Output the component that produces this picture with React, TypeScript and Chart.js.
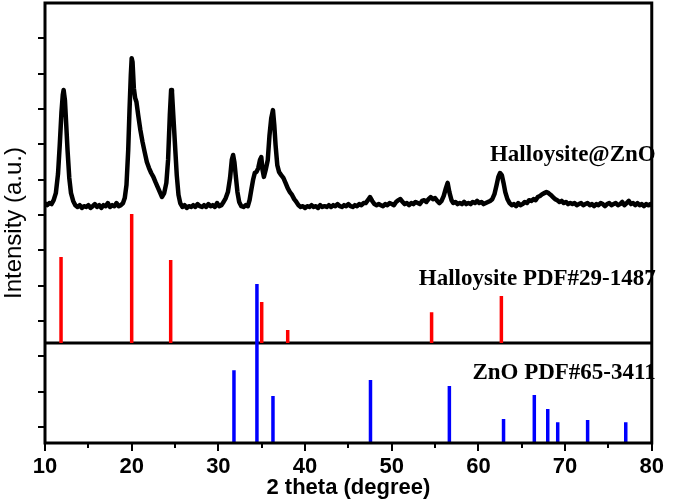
import { useEffect, useRef } from 'react';
import { Chart, registerables } from 'chart.js';

Chart.register(...registerables);

// Measured XRD pattern of Halloysite@ZnO (2θ in degrees, intensity in a.u.)
const theta = [
  10.0, 10.25, 10.5, 10.75, 11.0, 11.25, 11.5, 11.7, 11.9, 12.05, 12.15, 12.3, 12.45, 12.6, 12.8, 13.0, 13.25, 13.5, 13.75,
  14.0, 14.25, 14.5, 14.75, 15.0, 15.25, 15.5, 15.75, 16.0, 16.25, 16.5, 16.75, 17.0, 17.25, 17.5, 17.75, 18.0, 18.25, 18.5, 18.75,
  19.0, 19.2, 19.4, 19.6, 19.75, 19.9, 20.0, 20.1, 20.25, 20.4, 20.55, 20.75, 21.0, 21.25, 21.5, 21.75, 22.0, 22.25, 22.5, 22.75,
  23.0, 23.25, 23.5, 23.75, 24.0, 24.2, 24.4, 24.55, 24.65, 24.8, 25.0, 25.2, 25.4, 25.6, 25.85, 26.1, 26.35, 26.6, 26.85,
  27.1, 27.35, 27.6, 27.85, 28.1, 28.35, 28.6, 28.85, 29.1, 29.35, 29.6, 29.85, 30.1, 30.35, 30.6, 30.85, 31.1, 31.35, 31.55,
  31.7, 31.85, 32.0, 32.2, 32.4, 32.65, 32.9, 33.15, 33.4, 33.6, 33.8, 34.0, 34.2, 34.4, 34.6, 34.8, 34.95, 35.1, 35.25, 35.45,
  35.7, 35.9, 36.1, 36.3, 36.45, 36.6, 36.8, 37.0, 37.25, 37.5, 37.75, 38.0, 38.25, 38.5, 38.75, 39.0, 39.25, 39.5, 39.75,
  40.0, 40.25, 40.5, 40.75, 41.0, 41.25, 41.5, 41.75, 42.0, 42.25, 42.5, 42.75, 43.0, 43.25, 43.5, 43.75, 44.0, 44.25, 44.5, 44.75,
  45.0, 45.25, 45.5, 45.75, 46.0, 46.25, 46.5, 46.75, 47.0, 47.25, 47.5, 47.75, 48.0, 48.25, 48.5, 48.75, 49.0, 49.25, 49.5, 49.75,
  50.0, 50.25, 50.5, 50.75, 51.0, 51.25, 51.5, 51.75, 52.0, 52.25, 52.5, 52.75, 53.0, 53.25, 53.5, 53.75, 54.0, 54.25, 54.5, 54.75,
  55.0, 55.25, 55.5, 55.75, 56.0, 56.25, 56.45, 56.65, 56.9, 57.1, 57.35, 57.6, 57.85, 58.1, 58.35, 58.6, 58.85, 59.1, 59.35, 59.6, 59.85,
  60.1, 60.35, 60.6, 60.85, 61.1, 61.35, 61.6, 61.85, 62.1, 62.3, 62.5, 62.7, 62.9, 63.1, 63.35, 63.6, 63.85, 64.1, 64.35, 64.6, 64.85,
  65.1, 65.35, 65.6, 65.85, 66.1, 66.35, 66.6, 66.85, 67.1, 67.35, 67.6, 67.85, 68.1, 68.35, 68.6, 68.85, 69.1, 69.35, 69.6, 69.85,
  70.1, 70.35, 70.6, 70.85, 71.1, 71.35, 71.6, 71.85, 72.1, 72.35, 72.6, 72.85, 73.1, 73.35, 73.6, 73.85, 74.1, 74.35, 74.6, 74.85,
  75.1, 75.35, 75.6, 75.85, 76.1, 76.35, 76.6, 76.85, 77.1, 77.35, 77.6, 77.85, 78.1, 78.35, 78.6, 78.85, 79.1, 79.35, 79.6, 79.85, 80.0,
];

const intensity = [
  634, 628, 634, 631, 642, 662, 716, 798, 891, 940, 954, 925, 855, 784, 705, 662, 640, 628, 623,
  628, 620, 625, 623, 628, 620, 625, 631, 623, 628, 620, 628, 625, 634, 623, 628, 625, 634, 625, 628,
  634, 648, 685, 784, 897, 996, 1044, 1033, 959, 931, 920, 883, 841, 807, 778, 750, 733, 719, 708, 693,
  679, 665, 651, 662, 691, 756, 883, 954, 948, 883, 798, 713, 657, 634, 623, 628, 620, 625, 623,
  628, 623, 631, 625, 623, 628, 623, 631, 625, 628, 623, 634, 625, 628, 637, 648, 665, 705, 756,
  770, 750, 713, 665, 637, 625, 623, 628, 625, 642, 671, 699, 719, 722, 733, 756, 764, 727, 708, 727,
  756, 826, 874, 897, 855, 798, 741, 722, 713, 705, 691, 676, 665, 657, 645, 637, 628, 623, 625,
  620, 625, 623, 628, 623, 625, 620, 628, 623, 625, 623, 628, 623, 628, 625, 631, 625, 623, 628, 625,
  631, 625, 623, 628, 625, 631, 628, 634, 634, 642, 651, 640, 631, 628, 631, 628, 625, 631, 628, 634,
  631, 628, 637, 642, 645, 637, 631, 634, 628, 634, 631, 637, 634, 631, 640, 642, 637, 645, 651, 645,
  648, 640, 634, 640, 654, 676, 691, 665, 642, 634, 637, 631, 634, 631, 637, 631, 634, 631, 637, 634, 640,
  634, 637, 631, 634, 637, 640, 645, 659, 685, 708, 719, 713, 691, 665, 645, 634, 628, 631, 625, 634, 628,
  631, 637, 634, 642, 640, 645, 642, 651, 654, 659, 662, 665, 662, 657, 651, 645, 642, 637, 640, 634,
  637, 631, 634, 631, 634, 628, 631, 634, 628, 631, 634, 628, 631, 625, 631, 628, 634, 631, 625, 631,
  634, 628, 631, 634, 628, 631, 637, 628, 634, 640, 631, 634, 628, 634, 628, 631, 625, 631, 628, 631, 625,
];

// Halloysite reference lines (PDF#29-1487)
const halloysitePos = [11.85, 20.0, 24.5, 35.0, 38.0, 54.6, 62.65];
const halloysiteTop = [481, 603, 473, 354, 275, 325, 371];
const halloysiteBase = 238;

// ZnO reference lines (PDF#65-3411)
const znoPos = [31.8, 34.45, 36.3, 47.55, 56.65, 62.9, 66.45, 68.0, 69.15, 72.6, 77.0];
const znoTop = [161, 405, 88, 133, 116, 23, 91, 51, 14, 20, 14];
const znoBase = -45;

const xTicks = [10, 20, 30, 40, 50, 60, 70, 80];
const panelLabels = ['Halloysite@ZnO', 'Halloysite PDF#29-1487', 'ZnO PDF#65-3411'];

const SANS = '"Liberation Sans", Arial, sans-serif';
const SERIF = '"Liberation Serif", "Times New Roman", serif';

function sticks(pos: number[], top: number[], base: number) {
  const out: { x: number; y: number | null }[] = [];
  pos.forEach((p, i) => {
    out.push({ x: p, y: base });
    out.push({ x: p, y: top[i] });
    out.push({ x: p, y: null });
  });
  return out;
}

const framePlugin = {
  id: 'frame',
  afterDatasetsDraw(chart: any) {
    const { ctx, chartArea: a, scales } = chart;
    const xs = scales.x;
    const ys = scales.y;
    ctx.save();
    ctx.strokeStyle = '#000';
    ctx.lineWidth = 3;
    ctx.strokeRect(a.left, a.top, a.right - a.left, a.bottom - a.top);
    ctx.lineWidth = 2;
    ctx.beginPath();
    for (let v = 10; v <= 80; v += 5) {
      const px = Math.round(xs.getPixelForValue(v));
      const len = v % 10 === 0 ? 8 : 5;
      ctx.moveTo(px, a.bottom);
      ctx.lineTo(px, a.bottom + len);
    }
    for (let v = 0; v <= 1100; v += 100) {
      const py = Math.round(ys.getPixelForValue(v));
      ctx.moveTo(a.left - 7, py);
      ctx.lineTo(a.left, py);
    }
    ctx.stroke();

    ctx.fillStyle = '#000';
    ctx.font = `bold 23px ${SERIF}`;
    ctx.textAlign = 'right';
    ctx.textBaseline = 'alphabetic';
    const labelX = xs.getPixelForValue(80.46);
    const labelY = [753, 402, 136];
    panelLabels.forEach((t, i) => {
      ctx.fillText(t, labelX, ys.getPixelForValue(labelY[i]));
    });
    ctx.restore();
  },
};

export default function App() {
  const ref = useRef<HTMLCanvasElement>(null);
  useEffect(() => {
    document.body.style.margin = '0';
    const chart = new Chart(ref.current as HTMLCanvasElement, {
      type: 'line',
      data: {
        datasets: [
          {
            label: 'ZnO PDF#65-3411',
            data: sticks(znoPos, znoTop, znoBase),
            borderColor: '#0000ff',
            borderWidth: 3.5,
            borderCapStyle: 'butt',
            pointRadius: 0,
            spanGaps: false,
            order: 0,
          },
          {
            label: 'Halloysite PDF#29-1487',
            data: sticks(halloysitePos, halloysiteTop, halloysiteBase),
            borderColor: '#ff0000',
            borderWidth: 3.5,
            borderCapStyle: 'butt',
            pointRadius: 0,
            spanGaps: false,
            order: 1,
          },
          {
            label: 'baseline',
            data: [
              { x: 10, y: halloysiteBase },
              { x: 80, y: halloysiteBase },
            ],
            borderColor: '#000',
            borderWidth: 3,
            pointRadius: 0,
            order: 2,
          },
          {
            label: 'Halloysite@ZnO',
            data: theta.map((t, i) => ({ x: t, y: intensity[i] })),
            borderColor: '#000',
            borderWidth: 4.5,
            borderJoinStyle: 'round',
            pointRadius: 0,
            tension: 0,
            order: 3,
          },
        ],
      },
      options: {
        responsive: false,
        animation: false,
        devicePixelRatio: 1,
        layout: { padding: { top: 3, right: 15, left: 0, bottom: 0 } },
        plugins: { legend: { display: false }, tooltip: { enabled: false } },
        scales: {
          x: {
            type: 'linear',
            min: 10,
            max: 80,
            grid: { display: false, drawTicks: false },
            border: { display: false },
            afterBuildTicks: (s: any) => {
              s.ticks = xTicks.map((v) => ({ value: v }));
            },
            ticks: {
              color: '#000',
              font: { family: SANS, size: 22, weight: 'bold' },
              padding: 11,
              maxRotation: 0,
              autoSkip: false,
            },
            title: {
              display: true,
              text: '2 theta (degree)',
              color: '#000',
              font: { family: SANS, size: 22, weight: 'bold' },
              padding: { top: 0, bottom: 0 },
            },
            afterFit: (s: any) => {
              s.height = 58;
            },
          },
          y: {
            type: 'linear',
            min: -45,
            max: 1200,
            grid: { display: false, drawTicks: false },
            border: { display: false },
            ticks: { display: false },
            title: {
              display: true,
              text: 'Intensity (a.u.)',
              color: '#000',
              font: { family: SANS, size: 24, weight: 'normal' },
              padding: { top: 0, bottom: 0 },
            },
            afterFit: (s: any) => {
              s.width = 45;
            },
          },
        },
      },
      plugins: [framePlugin],
    } as any);
    return () => chart.destroy();
  }, []);
  return (
    <div style={{ width: 675, height: 501 }}>
      <canvas ref={ref} width={675} height={501} style={{ display: 'block' }} />
    </div>
  );
}
